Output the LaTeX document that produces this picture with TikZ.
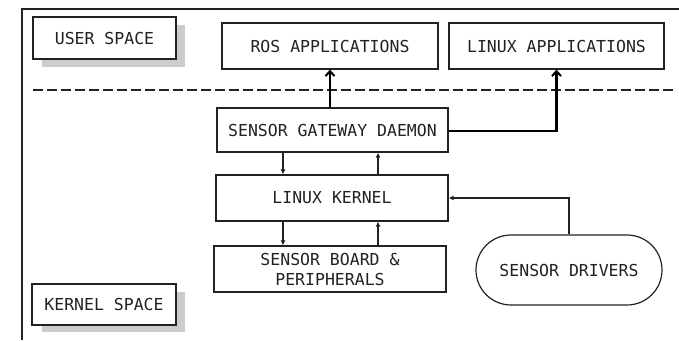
\documentclass[tikz,border=0pt]{standalone}
\usepackage{fontspec}
\setmonofont{DejaVu Sans Mono}
\usetikzlibrary{arrows.meta}
\definecolor{ink}{HTML}{222222}
\tikzset{
  block/.style={draw=ink, line width=1.2pt, fill=white, text=ink, align=center,
    font=\ttfamily\fontsize{16.5}{20}\selectfont, inner sep=0pt},
  label/.style={block},
  shade/.style={fill=black!20, draw=none},
  thin arrow/.style={draw=ink, line width=1.2pt, -{Latex[length=5pt,width=5pt]}},
  thick arrow/.style={draw=black, line width=2.5pt, -{Straight Barb[length=5pt,width=9pt,line width=2pt]}},
}
\begin{document}
\begin{tikzpicture}[x=1pt,y=-1pt]
\useasboundingbox (0,0) rectangle (679,340);
% outer frame (top and left sides)
\draw[ink, line width=1.2pt] (22,340) -- (22,9) -- (679,9);
% user/kernel boundary
\draw[ink, line width=2pt, dash pattern=on 9.5pt off 4.5pt] (33,90) -- (674,90);

% side labels with shadows
\fill[shade] (42,25) rectangle (185,67);
\node[label, minimum width=143pt, minimum height=42pt] (user) at (104.5,38) {USER SPACE};
\fill[shade] (42,292) rectangle (185,332);
\node[label, minimum width=144pt, minimum height=41pt] (kern) at (104,304.5) {KERNEL SPACE};

% application boxes
\node[block, minimum width=216pt, minimum height=46pt] (ros) at (330,46) {ROS APPLICATIONS};
\node[block, minimum width=215pt, minimum height=46pt] (lapp) at (556.5,46) {LINUX APPLICATIONS};

% stack
\node[block, minimum width=231pt, minimum height=44pt] (gw) at (332.5,130) {SENSOR GATEWAY DAEMON};
\node[block, minimum width=232pt, minimum height=46pt] (lk) at (332,198) {LINUX KERNEL};
\node[block, minimum width=232pt, minimum height=46pt] (sb) at (330,269) {SENSOR BOARD \&\\PERIPHERALS};
\node[block, rounded corners=35pt, minimum width=186pt, minimum height=70pt] (sd) at (569,270) {SENSOR DRIVERS};

% data flow up to applications
\draw[thick arrow] (gw.north -| ros) -- (ros.south);
\draw[thick arrow] ([yshift=-1pt]gw.east) -| (lapp.south);

% kernel/daemon exchange
\coordinate (a1) at (283,0);
\coordinate (a2) at (378,0);
\draw[thin arrow] (gw.south -| a1) -- (lk.north -| a1);
\draw[thin arrow] (lk.north -| a2) -- (gw.south -| a2);
\draw[thin arrow] (lk.south -| a1) -- (sb.north -| a1);
\draw[thin arrow] (sb.north -| a2) -- (lk.south -| a2);

% drivers into kernel
\draw[thin arrow] (sd.north) |- (lk.east);
\end{tikzpicture}
\end{document}
